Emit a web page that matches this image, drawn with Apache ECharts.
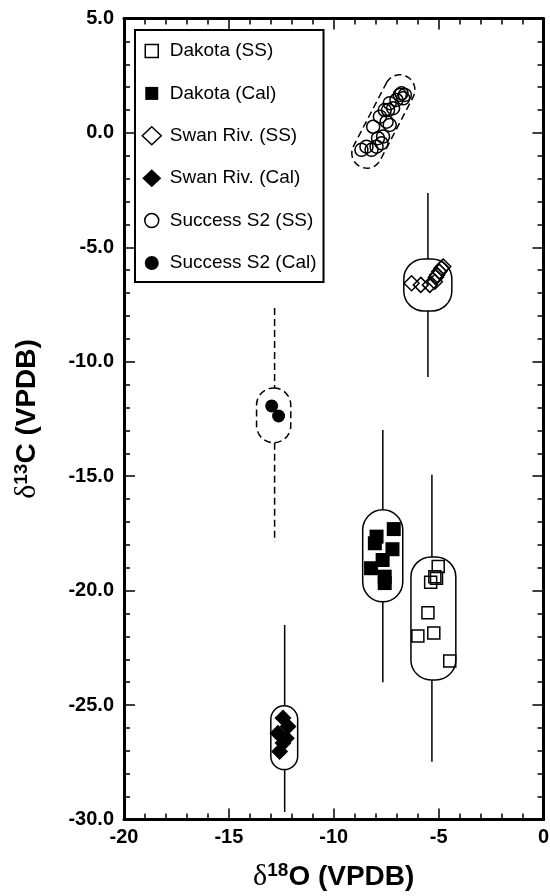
<!DOCTYPE html>
<html>
<head>
<meta charset="utf-8">
<script src="https://cdn.jsdelivr.net/npm/echarts@6/dist/echarts.min.js"></script>
<style>
  html, body { margin: 0; padding: 0; background: #fff; }
  #chart { width: 550px; height: 896px; }
</style>
</head>
<body>
<div id="chart"></div>
<script>
// Isotope measurements, [δ18O, δ13C] in ‰ VPDB
const dakotaSS = [
  [-5.02, -18.95], [-5.18, -19.39], [-5.38, -19.63], [-5.10, -19.46],
  [-5.51, -20.97], [-5.99, -21.98], [-5.23, -21.85], [-4.47, -23.07]
];
const dakotaCal = [
  [-7.14, -17.31], [-7.96, -17.64], [-8.04, -17.93], [-7.20, -18.19],
  [-7.67, -18.66], [-8.22, -19.02], [-7.57, -19.39], [-7.57, -19.67]
];
const swanSS = [
  [-6.29, -6.57], [-5.85, -6.64], [-5.42, -6.64], [-5.18, -6.50],
  [-5.13, -6.31], [-5.07, -6.21], [-4.97, -6.06], [-4.86, -5.91], [-4.78, -5.84]
];
const swanCal = [
  [-12.42, -25.57], [-12.18, -25.94], [-12.66, -26.23],
  [-12.26, -26.45], [-12.42, -26.66], [-12.58, -27.03]
];
const successSS = [
  [-8.68, -0.74], [-8.44, -0.60], [-8.20, -0.74], [-7.96, -0.60], [-7.72, -0.45],
  [-7.65, -0.16], [-7.89, -0.23], [-8.12, 0.27], [-7.80, 0.71], [-7.48, 0.49],
  [-7.33, 0.35], [-7.41, 1.00], [-7.33, 1.30], [-7.17, 1.08], [-7.01, 1.44],
  [-6.85, 1.66], [-6.77, 1.73], [-6.61, 1.66], [-6.69, 1.51], [-7.57, 1.00]
];
const successCal = [
  [-12.96, -11.93], [-12.63, -12.37]
];

// Group envelopes [xMin, xMax, yMin, yMax] and ranges [x, yMin, yMax]
const dakotaSSBox = [-6.32, -4.18, -23.90, -18.53];
const dakotaSSRange = [-5.32, -27.48, -14.94];
const dakotaCalBox = [-8.62, -6.71, -20.49, -16.47];
const dakotaCalRange = [-7.66, -24.00, -12.98];
const swanSSBox = [-6.66, -4.37, -7.78, -5.51];
const swanSSRange = [-5.51, -10.66, -2.62];
const swanCalBox = [-13.00, -11.72, -27.82, -25.03];
const swanCalRange = [-12.34, -29.67, -21.50];
const successCalBox = [-13.68, -12.05, -13.54, -11.14];
const successCalRange = [-12.82, -17.87, -7.65];
// Tilted envelope: end centres [x1, y1, x2, y2] and half-width in δ18O units
const successSSCapsule = [-8.42, -0.88, -6.85, 1.88, 0.72];

// Axis ranges
const xRange = [-20, 0];
const yRange = [-30, 5];
const majorStep = 5;

const FONT = '"Liberation Sans", Arial, Helvetica, sans-serif';

function envelopeItem(box, range) {
  return box.concat(range);
}

function makeEnvelopeRenderer(dashed) {
  return function (params, api) {
    const tl = api.coord([api.value(0), api.value(3)]);
    const br = api.coord([api.value(1), api.value(2)]);
    const w = br[0] - tl[0];
    const h = br[1] - tl[1];
    const r = Math.min(w, h, 40) / 2;
    const wx = api.value(4);
    const lo = api.coord([wx, api.value(5)]);
    const hi = api.coord([wx, api.value(6)]);
    const style = { stroke: '#000', fill: 'none', lineWidth: 1.5, lineDash: dashed ? [7, 4] : null };
    return {
      type: 'group',
      children: [
        { type: 'line', shape: { x1: hi[0], y1: hi[1], x2: hi[0], y2: tl[1] }, style: style },
        { type: 'line', shape: { x1: lo[0], y1: br[1], x2: lo[0], y2: lo[1] }, style: style },
        { type: 'rect', shape: { x: tl[0], y: tl[1], width: w, height: h, r: r }, style: style }
      ]
    };
  };
}

function renderCapsule(params, api) {
  const p1 = api.coord([api.value(0), api.value(1)]);
  const p2 = api.coord([api.value(2), api.value(3)]);
  const r = api.size([api.value(4), 0])[0];
  const th = Math.atan2(p2[1] - p1[1], p2[0] - p1[0]);
  const pts = [];
  const n = 24;
  for (let i = 0; i <= n; i++) {
    const a = th - Math.PI / 2 + Math.PI * i / n;
    pts.push([p2[0] + r * Math.cos(a), p2[1] + r * Math.sin(a)]);
  }
  for (let i = 0; i <= n; i++) {
    const a = th + Math.PI / 2 + Math.PI * i / n;
    pts.push([p1[0] + r * Math.cos(a), p1[1] + r * Math.sin(a)]);
  }
  return {
    type: 'polygon',
    shape: { points: pts },
    style: { stroke: '#000', fill: 'none', lineWidth: 1.5, lineDash: [7, 4] }
  };
}

const openStyle = { color: 'rgba(0,0,0,0)', borderColor: '#000', borderWidth: 1.5, opacity: 1 };
const filledStyle = { color: '#000', borderColor: '#000', borderWidth: 0, opacity: 1 };

// Legend icons drawn inside a 26 x 18 box so every marker keeps its own size
const squareIcon = 'path://M0,0M26,18M6.5,2.5h13v13h-13z';
const diamondIcon = 'path://M0,0M26,18M13,0L22.5,9L13,18L3.5,9z';
const circleIcon = 'path://M0,0M26,18M13,2a7,7 0 1,0 0.001,0z';

const tickLine = { color: '#000', width: 1.5 };
const frameLine = { show: true, onZero: false, lineStyle: { color: '#000', width: 3 } };
const labelStyle = { color: '#000', fontFamily: FONT, fontWeight: 'bold', fontSize: 20 };

function xAxisDef(position, showLabels) {
  return {
    type: 'value', position: position,
    min: xRange[0], max: xRange[1], interval: majorStep,
    axisLine: frameLine,
    axisTick: { show: true, inside: true, length: 11, lineStyle: tickLine },
    minorTick: { show: true, splitNumber: 5, length: 6, lineStyle: tickLine },
    splitLine: { show: false },
    axisLabel: Object.assign({ show: showLabels, margin: 8 }, labelStyle)
  };
}
function yAxisDef(position, showLabels) {
  return {
    type: 'value', position: position,
    min: yRange[0], max: yRange[1], interval: majorStep,
    axisLine: frameLine,
    axisTick: { show: true, inside: true, length: 11, lineStyle: tickLine },
    minorTick: { show: true, splitNumber: 5, length: 6, lineStyle: tickLine },
    splitLine: { show: false },
    axisLabel: Object.assign({ show: showLabels, margin: 10, formatter: v => v.toFixed(1) }, labelStyle)
  };
}

const nameRich = {
  d: { fontFamily: '"Liberation Serif", "DejaVu Serif", serif', fontSize: 30, color: '#000' },
  s: { fontFamily: FONT, fontWeight: 'bold', fontSize: 19, color: '#000', padding: [0, 0, 12, 0] },
  b: { fontFamily: FONT, fontWeight: 'bold', fontSize: 28, color: '#000' }
};

const xMain = xAxisDef('bottom', true);
xMain.name = '{d|δ}{s|18}{b|O (VPDB)}';
xMain.nameLocation = 'middle';
xMain.nameGap = 42;
xMain.nameTextStyle = { rich: nameRich };

const yMain = yAxisDef('left', true);
yMain.name = '{d|δ}{s|13}{b|C (VPDB)}';
yMain.nameLocation = 'middle';
yMain.nameGap = 81;
yMain.nameRotate = 90;
yMain.nameTextStyle = { rich: nameRich };

const chart = echarts.init(document.getElementById('chart'), null, { renderer: 'canvas' });

chart.setOption({
  animation: false,
  backgroundColor: '#fff',
  grid: { left: 124, right: 6.5, top: 18.5, bottom: 76.5, containLabel: false, outerBoundsMode: 'none' },
  xAxis: [xMain, xAxisDef('top', false)],
  yAxis: [yMain, yAxisDef('right', false)],
  legend: {
    orient: 'vertical',
    left: 135, top: 30,
    padding: [11, 7, 9, 3],
    itemWidth: 26, itemHeight: 18, itemGap: 22.4,
    backgroundColor: '#fff',
    borderColor: '#000', borderWidth: 2, borderRadius: 0,
    textStyle: { color: '#000', fontFamily: FONT, fontSize: 19, lineHeight: 20 },
    data: [
      { name: 'Dakota (SS)', icon: squareIcon, itemStyle: { color: '#fff', borderColor: '#000', borderWidth: 1.5 } },
      { name: 'Dakota (Cal)', icon: squareIcon, itemStyle: { color: '#000', borderColor: '#000', borderWidth: 0 } },
      { name: 'Swan Riv. (SS)', icon: diamondIcon, itemStyle: { color: '#fff', borderColor: '#000', borderWidth: 1.5 } },
      { name: 'Swan Riv. (Cal)', icon: diamondIcon, itemStyle: { color: '#000', borderColor: '#000', borderWidth: 0 } },
      { name: 'Success S2 (SS)', icon: circleIcon, itemStyle: { color: '#fff', borderColor: '#000', borderWidth: 1.5 } },
      { name: 'Success S2 (Cal)', icon: circleIcon, itemStyle: { color: '#000', borderColor: '#000', borderWidth: 0 } }
    ]
  },
  series: [
    {
      type: 'custom', name: 'envelopes', silent: true,
      renderItem: makeEnvelopeRenderer(false),
      data: [
        envelopeItem(dakotaSSBox, dakotaSSRange),
        envelopeItem(dakotaCalBox, dakotaCalRange),
        envelopeItem(swanSSBox, swanSSRange),
        envelopeItem(swanCalBox, swanCalRange)
      ]
    },
    {
      type: 'custom', name: 'envelopes dashed', silent: true,
      renderItem: makeEnvelopeRenderer(true),
      data: [envelopeItem(successCalBox, successCalRange)]
    },
    {
      type: 'custom', name: 'capsule', silent: true,
      renderItem: renderCapsule,
      data: [successSSCapsule]
    },
    { type: 'scatter', name: 'Dakota (SS)', symbol: 'rect', symbolSize: 12, itemStyle: openStyle, data: dakotaSS },
    { type: 'scatter', name: 'Dakota (Cal)', symbol: 'rect', symbolSize: 14, itemStyle: filledStyle, data: dakotaCal },
    { type: 'scatter', name: 'Swan Riv. (SS)', symbol: 'diamond', symbolSize: 15, itemStyle: openStyle, data: swanSS },
    { type: 'scatter', name: 'Swan Riv. (Cal)', symbol: 'diamond', symbolSize: 17, itemStyle: filledStyle, data: swanCal },
    { type: 'scatter', name: 'Success S2 (SS)', symbol: 'circle', symbolSize: 13, itemStyle: openStyle, data: successSS },
    { type: 'scatter', name: 'Success S2 (Cal)', symbol: 'circle', symbolSize: 13, itemStyle: filledStyle, data: successCal }
  ]
});
</script>
</body>
</html>
